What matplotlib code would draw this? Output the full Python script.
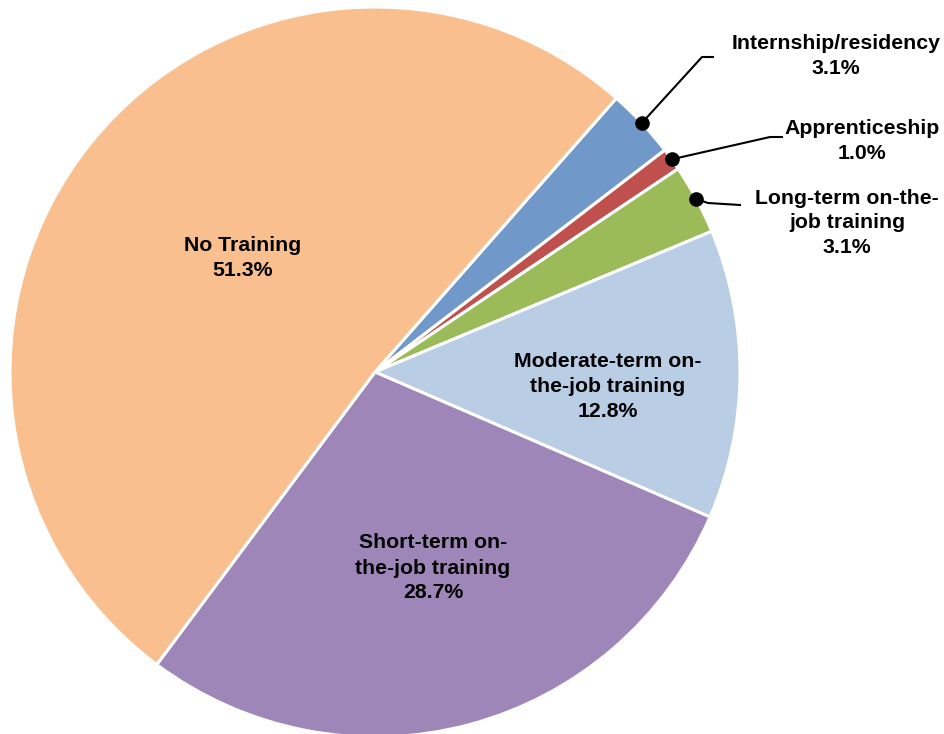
import numpy as np
import matplotlib
matplotlib.use("Agg")
import matplotlib.pyplot as plt

# slice order, clockwise starting at the top-right boundary
categories = ["Internship/residency", "Apprenticeship", "Long-term on-the-\njob training",
              "Moderate-term on-\nthe-job training", "Short-term on-\nthe-job training", "No Training"]
shares = [3.1, 1.0, 3.1, 12.8, 28.7, 51.3]
colors = ["#7099C9", "#C0504D", "#9BBB59", "#B9CDE5", "#9E86B8", "#F9BF8F"]

plt.rcParams['font.family'] = ['Liberation Sans', 'DejaVu Sans']

W, H = 945, 734
fig = plt.figure(figsize=(W / 100, H / 100), dpi=100)
ax = fig.add_axes([0, 0, 1, 1])

cx, cy, R = 375, H - 372, 365
start = 48.6
wedges, _ = ax.pie(shares, colors=colors, startangle=start, counterclock=False,
                   center=(cx, cy), radius=R, frame=True,
                   wedgeprops=dict(edgecolor='white', linewidth=2.2))
ax.set_xlim(0, W)
ax.set_ylim(0, H)
ax.set_aspect('equal')
ax.axis('off')

labels = [f"{c}\n{s:.1f}%" for c, s in zip(categories, shares)]
font = dict(fontsize=15.3, fontweight='bold', ha='center', va='center', linespacing=1.4)

# inside labels (text block centres)
inside = {3: (608, 387), 4: (433, 568), 5: (243, 258)}
for i, (x, y) in inside.items():
    ax.text(x, H - y, labels[i], **font)

# outside labels with leader lines and dots at the wedge edge
outside = {0: ((836, 56), [(702, 57), (713, 57)]),
           1: ((862, 141), [(770, 137), (782, 137)]),
           2: ((847, 223), [(708, 203), (740, 205)])}
for i, ((tx, ty), bends) in outside.items():
    w = wedges[i]
    mid = np.deg2rad((w.theta1 + w.theta2) / 2)
    px = cx + R * np.cos(mid)
    py = cy + R * np.sin(mid)
    xs = [px] + [b[0] for b in bends]
    ys = [py] + [H - b[1] for b in bends]
    ax.plot(xs, ys, color='black', lw=1.5, zorder=3)
    ax.plot(px, py, 'o', color='black', ms=9.5, zorder=4)
    ax.text(tx, H - ty, labels[i], **font)

fig.savefig("out.png", dpi=100)
